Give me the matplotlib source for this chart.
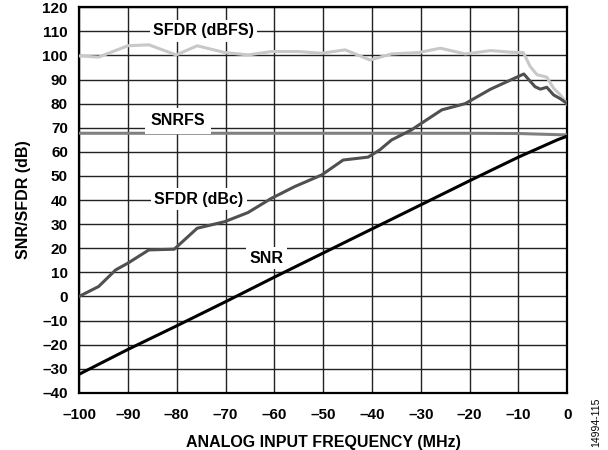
import numpy as np
import matplotlib.pyplot as plt

plt.rcParams['font.family'] = ['Liberation Sans', 'DejaVu Sans']

# SFDR (dBFS)
fs_x = [-100, -96, -90, -85.7, -80.1, -75.8, -70.2, -65.4, -60.6, -55.1, -50.3, -45.5,
        -40.4, -36, -30.4, -26, -20.9, -15.7, -11.4, -9, -7.6, -6.2, -4.2, -2.8, -1.4, 0]
fs_y = [99.8, 99.3, 104, 104.4, 100.2, 104, 101.2, 100.2, 101.6, 101.6, 100.9, 102.3,
        98.1, 100.6, 101.2, 103, 100.6, 102, 101.3, 101.2, 95.4, 92, 91, 86.4, 83.6, 79.8]

# SFDR (dBc)
dbc_x = [-100, -96, -92.5, -90, -85.7, -80.5, -75.8, -70.2, -65.4, -60.6, -55.8, -50.3,
         -45.9, -40.8, -38.4, -36, -32, -25.7, -20.9, -15.7, -8.9, -6.6, -5.5, -4.2, -2.8, -1.4, 0]
dbc_y = [0, 4.1, 11, 13.8, 19.3, 19.6, 28.3, 31, 34.8, 40.7, 45.6, 50.4,
         56.6, 57.8, 60.8, 64.9, 69, 77.4, 80, 86, 92.3, 87, 86, 86.8, 83.6, 82, 80]

# SNRFS
snrfs_x = [-100, -90, -80, -70, -60, -50, -40, -30, -20, -10, -5, 0]
snrfs_y = [67.7, 67.7, 67.7, 67.7, 67.7, 67.7, 67.7, 67.7, 67.7, 67.6, 67.3, 67.0]

# SNR
snr_x = [-100, -90, -80, -70, -60, -50, -40, -30, -20, -10, -5, -2, 0]
snr_y = [-32.3, -22, -12.2, -2.2, 8, 18, 28, 38, 48, 57.8, 62.3, 65, 66.5]

xticks = list(range(-100, 1, 10))
yticks = list(range(-40, 121, 10))

fig = plt.figure(figsize=(6.08, 4.5), dpi=100)
ax = fig.add_axes([0.130, 0.127, 0.803, 0.857])

ax.plot(fs_x, fs_y, color='#c8c8c8', lw=2.2, zorder=3)
ax.plot(snrfs_x, snrfs_y, color='#808080', lw=2.2, zorder=3)
ax.plot(dbc_x, dbc_y, color='#505050', lw=2.2, zorder=4)
ax.plot(snr_x, snr_y, color='black', lw=2.2, zorder=5)

ax.set_xlim(-100, 0)
ax.set_ylim(-40, 120)
ax.set_xticks(xticks)
ax.set_yticks(yticks)
ax.set_xticklabels([str(v).replace('-', '\u2013') for v in xticks])
ax.set_yticklabels([str(v).replace('-', '\u2013') for v in yticks])
ax.tick_params(length=0, labelsize=11)
ax.tick_params(axis='x', pad=11)
ax.tick_params(axis='y', pad=8)
for lab in ax.get_xticklabels() + ax.get_yticklabels():
    lab.set_fontweight('bold')
ax.grid(True, color='#222222', lw=1.0)
ax.set_axisbelow(True)
for s in ax.spines.values():
    s.set_linewidth(1.6)

ax.set_xlabel('ANALOG INPUT FREQUENCY (MHz)', fontsize=11.5, fontweight='bold', labelpad=9)
ax.set_ylabel('SNR/SFDR (dB)', fontsize=11.5, fontweight='bold', labelpad=8)

box = dict(facecolor='white', edgecolor='none', pad=2.5)
ax.text(-74.5, 110.2, 'SFDR (dBFS)', ha='center', va='center', fontsize=11.5,
        fontweight='bold', bbox=box, zorder=6)
ax.text(-79.7, 72.8, 'SNRFS', ha='center', va='center', fontsize=11.5,
        fontweight='bold', bbox=dict(facecolor='white', edgecolor='none', pad=4), zorder=6)
ax.text(-75.5, 40.3, 'SFDR (dBc)', ha='center', va='center', fontsize=11.5,
        fontweight='bold', bbox=box, zorder=6)
ax.text(-61.6, 15.9, 'SNR', ha='center', va='center', fontsize=11.5,
        fontweight='bold', bbox=box, zorder=6)

fig.text(0.980, 0.062, '14994-115', rotation=90, ha='center', va='center', fontsize=7.5)

fig.savefig('out.png', dpi=100)
